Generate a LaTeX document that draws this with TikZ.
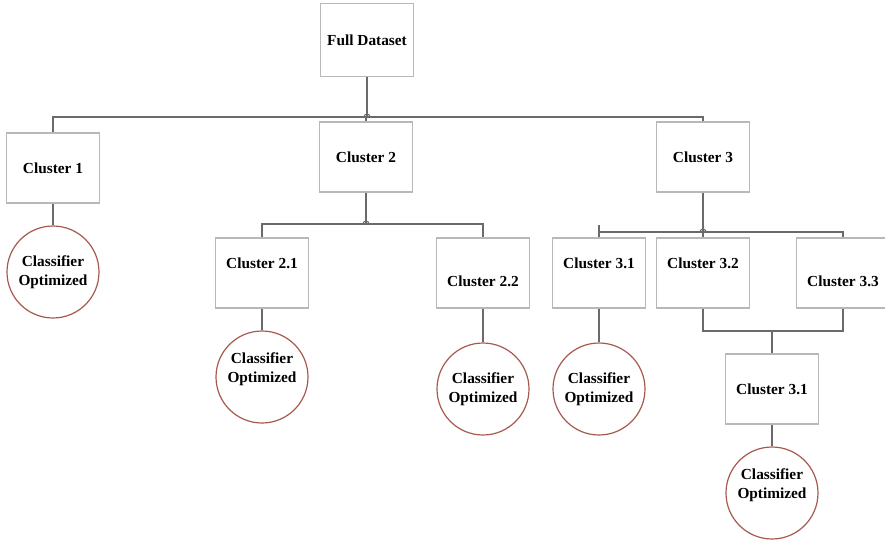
\documentclass[tikz,border=0pt]{standalone}
\usepackage{fontspec}
\setmainfont{Liberation Serif}
\usetikzlibrary{positioning}
\definecolor{LinkGrey}{HTML}{6A6A6A}
\definecolor{BoxGrey}{HTML}{B8B8B8}
\definecolor{RingRed}{HTML}{A65A4E}

\begin{document}
\begin{tikzpicture}[x=0.75pt, y=-0.75pt,
    box/.style={draw=BoxGrey, line width=0.9pt, minimum width=70pt, minimum height=52.5pt,
      inner sep=0pt, font=\fontsize{11.5}{14}\selectfont\bfseries},
    boxhi/.style={box, text depth=15pt},
    boxlo/.style={box, text height=21pt},
    clf/.style={circle, draw=RingRed, line width=0.9pt, minimum size=69pt, inner sep=0pt,
      align=center, font=\fontsize{11.5}{14}\selectfont\bfseries},
    clfhi/.style={clf, text depth=14pt},
    link/.style={draw=LinkGrey, line width=1.2pt}]
  \useasboundingbox (0,0) rectangle (885,543);
  % Root
  \node[box, minimum height=55pt] (full) at (367,40) {Full Dataset};
  % First split
  \node[box] (c1) at (53,168) {Cluster 1};
  \node[box] (c2) at (366,157) {Cluster 2};
  \node[box] (c3) at (703,157) {Cluster 3};
  % Second split
  \node[boxhi] (c21) at (262,273) {Cluster 2.1};
  \node[boxlo] (c22) at (483,273) {Cluster 2.2};
  \node[boxhi] (c31) at (599,273) {Cluster 3.1};
  \node[boxhi] (c32) at (703,273) {Cluster 3.2};
  \node[boxlo] (c33) at (843,273) {Cluster 3.3};
  \node[box] (c3b) at (772,389) {Cluster 3.1};
  % Classifiers
  \node[clf] (k1) at (53,272) {Classifier\\Optimized};
  \node[clfhi] (k21) at (262,377) {Classifier\\Optimized};
  \node[clf] (k22) at (483,389) {Classifier\\Optimized};
  \node[clf] (k31) at (599,389) {Classifier\\Optimized};
  \node[clfhi] (kb) at (772,493) {Classifier\\Optimized};

  % Bus lines
  \coordinate (bus1) at (367,117);
  \coordinate (bus2) at (366,224);
  \coordinate (bus3) at (703,232);
  \coordinate (join) at (772,331);

  \draw[link] (full) -- (bus1);
  \draw[link] (c1.north) |- (c3.north |- bus1) -- (c3.north);
  \draw[link] (c2.north) -- (c2.north |- bus1);

  \draw[link] (c2) -- (bus2);
  \draw[link] (c21.north) |- (c22.north |- bus2) -- (c22.north);

  \draw[link] (c3) -- (bus3);
  \draw[link] (c32.north) -- (bus3);
  \draw[link] (c31.north) -- ++(0,-12);
  \draw[link] (c31.north |- bus3) -| (c33.north);

  \draw[link] (c32.south) |- (join) -| (c33.south);
  \draw[link] (join) -- (c3b);

  % small hops where the trunks meet
  \foreach \p in {bus1,bus2,bus3}
    \draw[link, line width=0.8pt] (\p) ++(-3,0) arc[start angle=180, end angle=360, radius=3];

  % Boxes to classifiers
  \draw[link] (c1) -- (k1);
  \draw[link] (c21) -- (k21);
  \draw[link] (c22) -- (k22);
  \draw[link] (c31) -- (k31);
  \draw[link] (c3b) -- (kb);
\end{tikzpicture}
\end{document}
